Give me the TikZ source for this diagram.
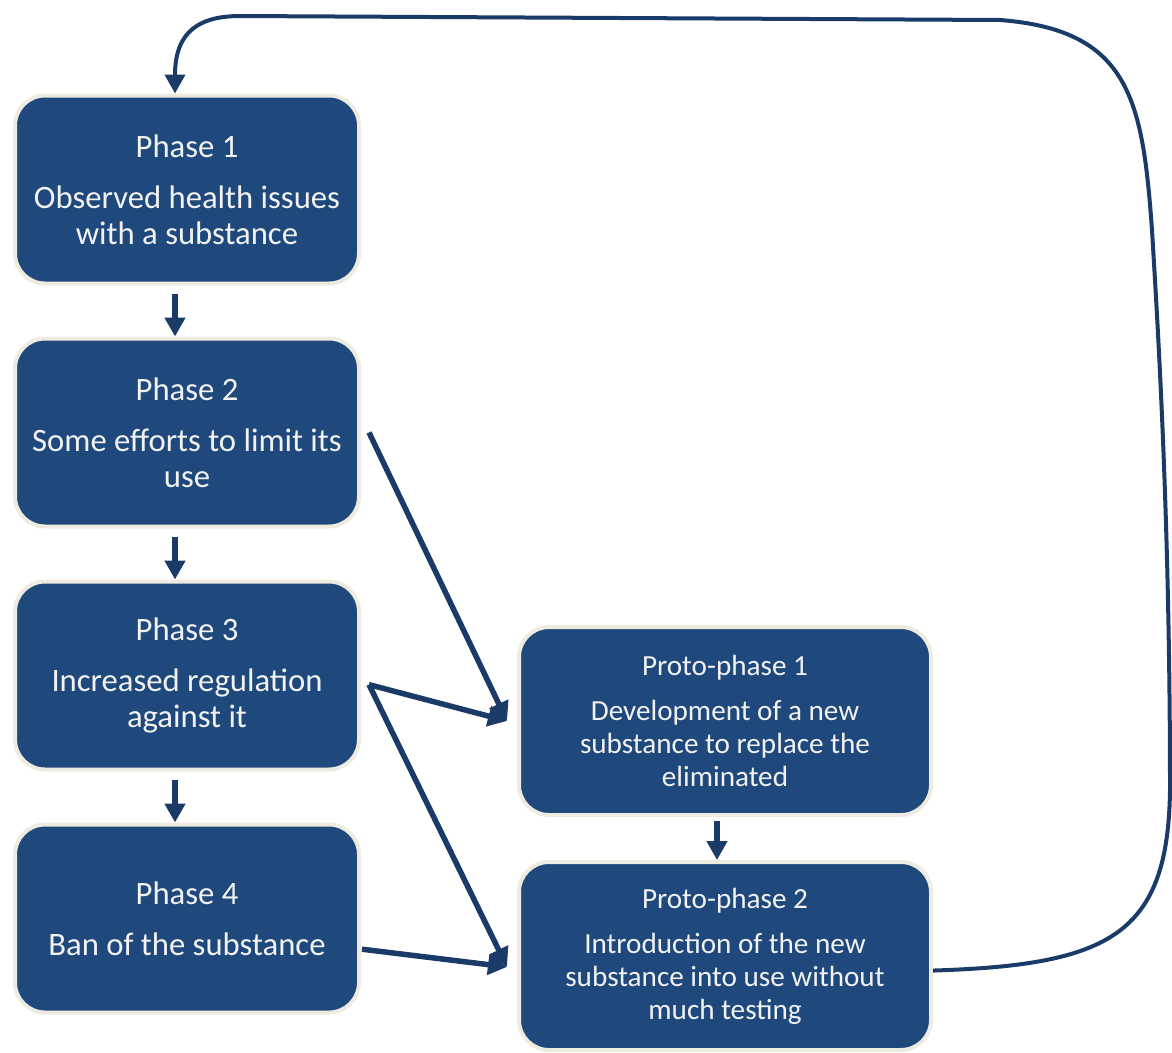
\documentclass[tikz,border=0pt]{standalone}
\usepackage{fontspec}
\setmainfont{Carlito}
\usetikzlibrary{arrows.meta}
\usetikzlibrary{positioning}

\definecolor{phaseblue}{HTML}{1F497D}
\definecolor{phaserim}{HTML}{EEECE1}
\definecolor{flowline}{HTML}{1A3A67}
\definecolor{phasetext}{HTML}{F2F2F2}

\tikzset{
  phase/.style={rectangle, rounded corners=0.6cm, fill=phaseblue, draw=phaserim,
    line width=0.08cm, minimum width=6.88cm, minimum height=3.76cm,
    align=center, text=phasetext, font=\fontsize{18.6}{20.5}\selectfont},
  proto/.style={phase, minimum width=8.24cm, font=\fontsize{16.6}{18.8}\selectfont},
  flow/.style={draw=flowline, line width=0.11cm, -{Triangle[width=0.4cm,length=0.38cm]}},
  loopback/.style={flow, line width=0.08cm},
}

\begin{document}
\begin{tikzpicture}[node distance=4.86cm, on grid]
   \useasboundingbox (0,0) rectangle (23.44,-21.04);
   \node[phase] (ph1) at (3.74,-3.79) {Phase 1\\[0.3cm]Observed health issues\\with a substance};
   \node[phase] (ph2) [below=of ph1] {Phase 2\\[0.3cm]Some efforts to limit its\\use};
   \node[phase] (ph3) [below=of ph2] {Phase 3\\[0.3cm]Increased regulation\\against it};
   \node[phase] (ph4) [below=of ph3] {Phase 4\\[0.3cm]Ban of the substance};
   \node[proto] (pp1) [below right=0.91cm and 10.76cm of ph3]
     {Proto-phase 1\\[0.24cm]Development of a new\\substance to replace the\\eliminated};
   \node[proto] (pp2) [below=4.7cm of pp1]
     {Proto-phase 2\\[0.24cm]Introduction of the new\\substance into use without\\much testing};
   % main sequence
   \draw[flow, shorten <=0.17cm] ([xshift=-0.24cm]ph1.south) -- ([xshift=-0.24cm]ph2.north);
   \draw[flow, shorten <=0.17cm] ([xshift=-0.24cm]ph2.south) -- ([xshift=-0.24cm]ph3.north);
   \draw[flow, shorten <=0.17cm] ([xshift=-0.24cm]ph3.south) -- ([xshift=-0.24cm]ph4.north);
   \draw[flow, shorten <=0.08cm] ([xshift=-0.16cm]pp1.south) -- ([xshift=-0.16cm]pp2.north);
   % side branches
   \draw[flow] ([xshift=0.16cm]ph2.east) -- ([xshift=-0.2cm]pp1.west);
   \draw[flow] ([xshift=0.16cm]ph3.-3) -- ([xshift=-0.2cm]pp1.west);
   \draw[flow] ([xshift=0.16cm]ph3.-3) -- ([xshift=-0.2cm]pp2.183);
   \draw[flow] ([xshift=0.02cm]ph4.-10) -- ([xshift=-0.2cm]pp2.183);
   % back to the start
   \draw[loopback] (pp2.-4)
     .. controls (22.2,-19.3) and (23.36,-18.7) .. (23.4,-15.8)
     .. controls (23.4,-10.4) and (23.16,-6.6) .. (23.04,-4.6)
     .. controls (22.85,-2.0) and (22.6,-0.6) .. (20,-0.4)
     -- (4.8,-0.32)
     .. controls (3.8,-0.32) and (3.5,-0.8) .. ([xshift=-0.24cm]ph1.north);
\end{tikzpicture}
\end{document}
